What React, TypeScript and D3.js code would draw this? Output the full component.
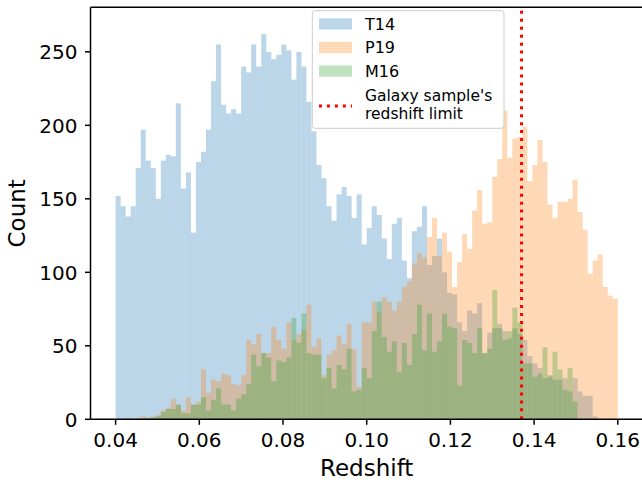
import React from 'react';
import * as d3 from 'd3';

// Histogram bins (shared edges)
const binStart = 0.04;
const binWidth = 0.0012;

// Counts per bin (100 bins from 0.04 to 0.16)
const t14 = [
  152, 145, 138, 145, 171, 197, 176, 171, 150, 176,
  180, 179, 215, 157, 168, 127, 175, 182, 197, 230,
  255, 214, 208, 211, 208, 240, 236, 255, 240, 262,
  250, 245, 248, 255, 251, 231, 250, 240, 216, 196,
  173, 164, 145, 135, 153, 158, 152, 137, 153, 119,
  130, 145, 139, 123, 109, 133, 137, 108, 96, 128,
  131, 145, 105, 111, 123, 100, 86, 85, 66, 60,
  74, 72, 79, 45, 59, 62, 65, 60, 55, 62,
  58, 54, 43, 38, 35, 28, 30, 27, 27, 28,
  19, 28, 19, 16, 16, 2, 0, 0, 0, 0,
];
const p19 = [
  0, 0, 1, 0, 1, 2, 1, 2, 3, 6,
  8, 14, 10, 6, 15, 10, 12, 34, 18, 27,
  26, 31, 30, 24, 23, 30, 54, 51, 58, 45,
  45, 63, 54, 48, 66, 54, 58, 61, 78, 49,
  55, 30, 44, 47, 57, 51, 65, 48, 22, 66,
  66, 80, 73, 83, 80, 74, 80, 90, 94, 106,
  113, 110, 124, 137, 111, 127, 114, 90, 107, 126,
  116, 142, 156, 133, 134, 165, 177, 210, 178, 191,
  192, 199, 162, 173, 190, 175, 146, 137, 148, 148,
  150, 163, 141, 129, 99, 108, 112, 90, 84, 82,
];
const m16 = [
  0, 0, 0, 0, 0, 0, 1, 1, 2, 5,
  7, 7, 10, 4, 4, 10, 10, 15, 6, 13,
  21, 10, 10, 6, 14, 17, 24, 44, 36, 45,
  42, 26, 40, 39, 42, 69, 52, 72, 45, 44,
  44, 28, 35, 21, 37, 34, 48, 19, 20, 35,
  28, 60, 80, 56, 46, 53, 32, 52, 37, 58,
  78, 47, 72, 46, 53, 72, 63, 62, 23, 54,
  52, 45, 62, 45, 48, 88, 62, 54, 60, 76,
  66, 38, 38, 29, 31, 49, 29, 46, 34, 20,
  35, 12, 0, 0, 0, 0, 0, 0, 0, 0,
];

const seriesNames = ['T14', 'P19', 'M16'];
const xTicks = [0.04, 0.06, 0.08, 0.1, 0.12, 0.14, 0.16];
const xTickLabels = ['0.04', '0.06', '0.08', '0.10', '0.12', '0.14', '0.16'];
const yTicks = [0, 50, 100, 150, 200, 250];
const redshiftLimit = 0.137;
const limitLabel = ["Galaxy sample's", 'redshift limit'];

const colors = ['#1f77b4', '#ff7f0e', '#2ca02c'];
const FONT = 'DejaVu Sans, sans-serif';

export default function App() {
  const W = 642;
  const H = 483;
  const left = 90.5;
  const right = 642.9;
  const top = 7.3;
  const bottom = 419.3;

  const x = d3.scaleLinear().domain([0.034, 0.166]).range([left, right]);
  const y = d3.scaleLinear().domain([0, 280.3]).range([bottom, top]);

  const allSeries = [t14, p19, m16];

  return (
    <svg
      width={W}
      height={H}
      style={{ position: 'absolute', left: 0, top: 0, background: '#fff' }}
      fontFamily={FONT}
    >
      <rect x={0} y={0} width={W} height={H} fill="#fff" />
      {allSeries.map((data, si) => (
        <g key={si} fill={colors[si]} fillOpacity={0.3}>
          {data.map((v, i) => {
            if (v <= 0) return null;
            const x0 = x(binStart + i * binWidth);
            const x1 = x(binStart + (i + 1) * binWidth);
            return (
              <rect key={i} x={x0} y={y(v)} width={x1 - x0} height={y(0) - y(v)} />
            );
          })}
        </g>
      ))}

      {/* red vertical limit */}
      <line
        x1={x(redshiftLimit)}
        x2={x(redshiftLimit)}
        y1={bottom}
        y2={top}
        stroke="#ff0000"
        strokeWidth={3}
        strokeDasharray="3 4.95"
      />

      {/* spines */}
      <g stroke="#000" strokeWidth={1.5} fill="none">
        <line x1={left} x2={left} y1={top} y2={bottom} />
        <line x1={left} x2={right} y1={bottom} y2={bottom} />
        <line x1={left} x2={right} y1={top} y2={top} />
        <line x1={right} x2={right} y1={top} y2={bottom} />
      </g>

      {/* x ticks */}
      {xTicks.map((t, i) => (
        <g key={i}>
          <line x1={x(t)} x2={x(t)} y1={bottom} y2={bottom + 5.5} stroke="#000" strokeWidth={1.5} />
          <text x={x(t)} y={447} textAnchor="middle" fontSize={20} fill="#000">
            {xTickLabels[i]}
          </text>
        </g>
      ))}
      {/* y ticks */}
      {yTicks.map((t, i) => (
        <g key={i}>
          <line x1={left - 5.5} x2={left} y1={y(t)} y2={y(t)} stroke="#000" strokeWidth={1.5} />
          <text x={left - 13} y={y(t)} dy="0.36em" textAnchor="end" fontSize={20} fill="#000">
            {t}
          </text>
        </g>
      ))}

      <text x={(left + right) / 2} y={476} textAnchor="middle" fontSize={23} fill="#000">
        Redshift
      </text>
      <text
        transform={`translate(25, ${(top + bottom) / 2}) rotate(-90)`}
        textAnchor="middle"
        fontSize={23}
        fill="#000"
      >
        Count
      </text>

      {/* legend */}
      <g>
        <rect x={312.3} y={10.7} width={191.7} height={117.6} rx={3} fill="#fff" fillOpacity={0.8} stroke="#cccccc" strokeWidth={1} />
        {seriesNames.map((name, i) => (
          <g key={name}>
            <rect x={319} y={18.3 + i * 23.6} width={33} height={11.2} fill={colors[i]} fillOpacity={0.3} />
            <text x={365} y={29.5 + i * 23.6} fontSize={16} fill="#000">
              {name}
            </text>
          </g>
        ))}
        <line x1={319} x2={352} y1={106} y2={106} stroke="#ff0000" strokeWidth={3} strokeDasharray="3 4.95" />
        <text x={365} y={100.8} fontSize={15.5} fill="#000">{limitLabel[0]}</text>
        <text x={365} y={119.2} fontSize={15.5} fill="#000">{limitLabel[1]}</text>
      </g>
    </svg>
  );
}
